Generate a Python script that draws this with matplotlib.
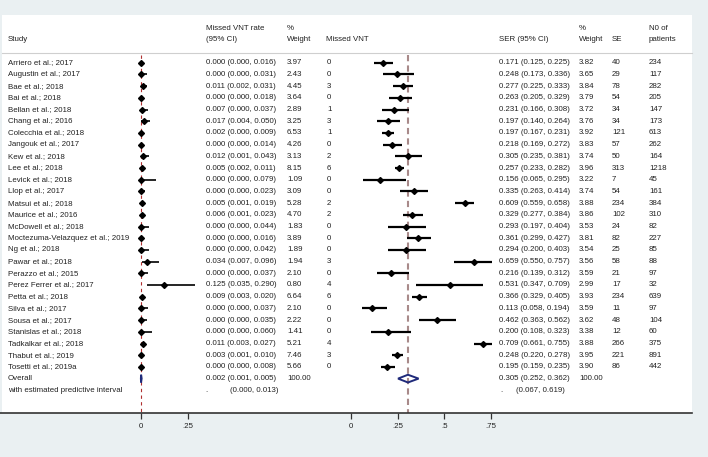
import matplotlib
matplotlib.use('Agg')
import matplotlib.pyplot as plt
from matplotlib.patches import Polygon, Rectangle
from matplotlib.lines import Line2D

plt.rcParams['font.family'] = ['Liberation Sans', 'DejaVu Sans']

#-------------------------------------------------------------------------------
# data
studies = ['Arriero et al.; 2017', 'Augustin et al.; 2017', 'Bae et al.; 2018', 'Bai et al.; 2018',
           'Bellan et al.; 2018', 'Chang et al.; 2016', 'Colecchia et al.; 2018', 'Jangouk et al.; 2017',
           'Kew et al.; 2018', 'Lee et al.; 2018', 'Levick et al.; 2018', 'Llop et al.; 2017',
           'Matsui et al.; 2018', 'Maurice et al.; 2016', 'McDowell et al.; 2018',
           'Moctezuma-Velazquez et al.; 2019', 'Ng et al.; 2018', 'Pawar et al.; 2018',
           'Perazzo et al.; 2015', 'Perez Ferrer et al.; 2017', 'Petta et al.; 2018', 'Silva et al.; 2017',
           'Sousa et al.; 2017', 'Stanislas et al.; 2018', 'Tadkalkar et al.; 2018', 'Thabut et al.; 2019',
           'Tosetti et al.; 2019a']

rate    = [0.000, 0.000, 0.011, 0.000, 0.007, 0.017, 0.002, 0.000, 0.012, 0.005, 0.000, 0.000, 0.005, 0.006,
           0.000, 0.000, 0.000, 0.034, 0.000, 0.125, 0.009, 0.000, 0.000, 0.000, 0.011, 0.003, 0.000]
rate_lo = [0.000, 0.000, 0.002, 0.000, 0.000, 0.004, 0.000, 0.000, 0.001, 0.002, 0.000, 0.000, 0.001, 0.001,
           0.000, 0.000, 0.000, 0.007, 0.000, 0.035, 0.003, 0.000, 0.000, 0.000, 0.003, 0.001, 0.000]
rate_hi = [0.016, 0.031, 0.031, 0.018, 0.037, 0.050, 0.009, 0.014, 0.043, 0.011, 0.079, 0.023, 0.019, 0.023,
           0.044, 0.016, 0.042, 0.096, 0.037, 0.290, 0.020, 0.037, 0.035, 0.060, 0.027, 0.010, 0.008]
rate_w  = [3.97, 2.43, 4.45, 3.64, 2.89, 3.25, 6.53, 4.26, 3.13, 8.15, 1.09, 3.09, 5.28, 4.70,
           1.83, 3.89, 1.89, 1.94, 2.10, 0.80, 6.64, 2.10, 2.22, 1.41, 5.21, 7.46, 5.66]
missed  = [0, 0, 3, 0, 1, 3, 1, 0, 2, 6, 0, 0, 2, 2, 0, 0, 0, 3, 0, 4, 6, 0, 0, 0, 4, 3, 0]

ser     = [0.171, 0.248, 0.277, 0.263, 0.231, 0.197, 0.197, 0.218, 0.305, 0.257, 0.156, 0.335, 0.609, 0.329,
           0.293, 0.361, 0.294, 0.659, 0.216, 0.531, 0.366, 0.113, 0.462, 0.200, 0.709, 0.248, 0.195]
ser_lo  = [0.125, 0.173, 0.225, 0.205, 0.166, 0.140, 0.167, 0.169, 0.235, 0.233, 0.065, 0.263, 0.559, 0.277,
           0.197, 0.299, 0.200, 0.550, 0.139, 0.347, 0.329, 0.058, 0.363, 0.108, 0.661, 0.220, 0.159]
ser_hi  = [0.225, 0.336, 0.333, 0.329, 0.308, 0.264, 0.231, 0.272, 0.381, 0.282, 0.295, 0.414, 0.658, 0.384,
           0.404, 0.427, 0.403, 0.757, 0.312, 0.709, 0.405, 0.194, 0.562, 0.323, 0.755, 0.278, 0.235]
ser_w   = [3.82, 3.65, 3.84, 3.79, 3.72, 3.76, 3.92, 3.83, 3.74, 3.96, 3.22, 3.74, 3.88, 3.86,
           3.53, 3.81, 3.54, 3.56, 3.59, 2.99, 3.93, 3.59, 3.62, 3.38, 3.88, 3.95, 3.90]
se      = [40, 29, 78, 54, 34, 34, 121, 57, 50, 313, 7, 54, 234, 102, 24, 82, 25, 58, 21, 17, 234, 11, 48, 12,
           266, 221, 86]
patients = [234, 117, 282, 205, 147, 173, 613, 262, 164, 1218, 45, 161, 384, 310, 82, 227, 85, 88, 97, 32,
            639, 97, 104, 60, 375, 891, 442]

rate_overall = [0.002, 0.001, 0.005]
rate_pi = [0.000, 0.013]
ser_overall = [0.305, 0.252, 0.362]
ser_pi = [0.067, 0.619]

#-------------------------------------------------------------------------------
W, H = 708, 457
def fx(px): return px / W
def fy(py): return 1 - py / H

row0, drow = 62.7, 11.7            # pixel row of first study, row spacing
panel_top, axis_y = 15, 413
ytop = (panel_top - row0) / drow
ybot = (axis_y - row0) / drow
n = len(studies)
rows = list(range(n))
r_all, r_pi = n, n + 1.0

fs = 5.7
tc = '#222222'
fig = plt.figure(figsize=(W / 100, H / 100), dpi=100, facecolor='#eaf0f2')
fig.patches.append(Rectangle((fx(2), fy(axis_y)), fx(692) - fx(2), (axis_y - panel_top) / H,
                             transform=fig.transFigure, facecolor='white', edgecolor='none', zorder=-5))

# text table
ax_t = fig.add_axes([0, fy(axis_y), 1, (axis_y - panel_top) / H])
ax_t.set_xlim(0, W)
ax_t.set_ylim(ybot, ytop)
ax_t.axis('off')

h1, h2 = (28 - row0) / drow, (39.5 - row0) / drow
heads = [(8, '', 'Study'), (206, 'Missed VNT rate', '(95% CI)'), (287, '%', 'Weight'),
         (326, '', 'Missed VNT'), (499, '', 'SER (95% CI)'), (579, '%', 'Weight'),
         (612, '', 'SE'), (649, 'N0 of', 'patients')]
for x, t1, t2 in heads:
    ax_t.text(x, h1, t1, fontsize=fs, color=tc, va='center')
    ax_t.text(x, h2, t2, fontsize=fs, color=tc, va='center')
ax_t.plot([2, 692], [(53 - row0) / drow] * 2, color='#cfcfcf', lw=0.8, clip_on=False)

for i in rows:
    ax_t.text(8, i, studies[i], fontsize=fs, color=tc, va='center')
    ax_t.text(206, i, '%.3f (%.3f, %.3f)' % (rate[i], rate_lo[i], rate_hi[i]), fontsize=fs, color=tc, va='center')
    ax_t.text(287, i, '%.2f' % rate_w[i], fontsize=fs, color=tc, va='center')
    ax_t.text(327, i, '%d' % missed[i], fontsize=fs, color=tc, va='center')
    ax_t.text(499, i, '%.3f (%.3f, %.3f)' % (ser[i], ser_lo[i], ser_hi[i]), fontsize=fs, color=tc, va='center')
    ax_t.text(579, i, '%.2f' % ser_w[i], fontsize=fs, color=tc, va='center')
    ax_t.text(612, i, '%d' % se[i], fontsize=fs, color=tc, va='center')
    ax_t.text(649, i, '%d' % patients[i], fontsize=fs, color=tc, va='center')

ax_t.text(8, r_all, 'Overall', fontsize=fs, color=tc, va='center')
ax_t.text(8, r_pi, 'with estimated predictive interval', fontsize=fs, color=tc, va='center')
ax_t.text(206, r_all, '%.3f (%.3f, %.3f)' % tuple(rate_overall), fontsize=fs, color=tc, va='center')
ax_t.text(287, r_all, '100.00', fontsize=fs, color=tc, va='center')
ax_t.text(205, r_pi, '.', fontsize=fs, color=tc, va='center')
ax_t.text(230, r_pi, '(%.3f, %.3f)' % tuple(rate_pi), fontsize=fs, color=tc, va='center')
ax_t.text(499, r_all, '%.3f (%.3f, %.3f)' % tuple(ser_overall), fontsize=fs, color=tc, va='center')
ax_t.text(579, r_all, '100.00', fontsize=fs, color=tc, va='center')
ax_t.text(500, r_pi, '.', fontsize=fs, color=tc, va='center')
ax_t.text(515.5, r_pi, '(%.3f, %.3f)' % tuple(ser_pi), fontsize=fs, color=tc, va='center')

# bottom axis line across the panel
fig.add_artist(Line2D([fx(0), fx(692)], [fy(axis_y)] * 2, color='#333333', lw=1.2))

#-------------------------------------------------------------------------------
def forest(px0, px1, zero_px, scale, est, lo, hi, overall, ticks, ticklabels, ref_style, ci_lw, hollow):
    ax = fig.add_axes([fx(px0), fy(axis_y), fx(px1) - fx(px0), (axis_y - panel_top) / H])
    ax.set_xlim((px0 - zero_px) / scale, (px1 - zero_px) / scale)
    ax.set_ylim(ybot, ytop)
    ax.patch.set_visible(False)
    for s in ax.spines.values():
        s.set_visible(False)
    ax.set_yticks([])
    ax.set_xticks(ticks)
    ax.set_xticklabels(ticklabels)
    ax.tick_params(axis='x', direction='out', length=4.5, width=0.9, pad=3, labelsize=fs,
                   colors='#333333', labelcolor=tc)
    ax.vlines(overall[0], (55 - row0) / drow, ybot, zorder=1, **ref_style)
    ax.hlines(rows, lo, hi, color='black', lw=ci_lw, zorder=3)
    ax.plot(est, rows, 'D', ms=3.0, color='black', zorder=4)
    e, l, u = overall
    hh = 0.33
    dia = Polygon([[l, r_all], [e, r_all - hh], [u, r_all], [e, r_all + hh]], closed=True,
                  facecolor='none' if hollow else '#1f2a7a', edgecolor='#1f2a7a', lw=1.4, zorder=5)
    ax.add_patch(dia)
    return ax

ax_l = forest(100, 215, 140.7, 188.0, rate, rate_lo, rate_hi, rate_overall, [0, 0.25], ['0', '.25'],
              dict(colors='#b03030', lw=0.8, linestyles=(0, (3, 3))), 1.2, False)
ax_r = forest(330, 500, 351.0, 186.7, ser, ser_lo, ser_hi, ser_overall, [0, 0.25, 0.5, 0.75],
              ['0', '.25', '.5', '.75'], dict(colors='#a88a8a', lw=1.5, linestyles=(0, (3, 2))), 1.6, True)

plt.savefig('out.png', dpi=100, facecolor=fig.get_facecolor())
